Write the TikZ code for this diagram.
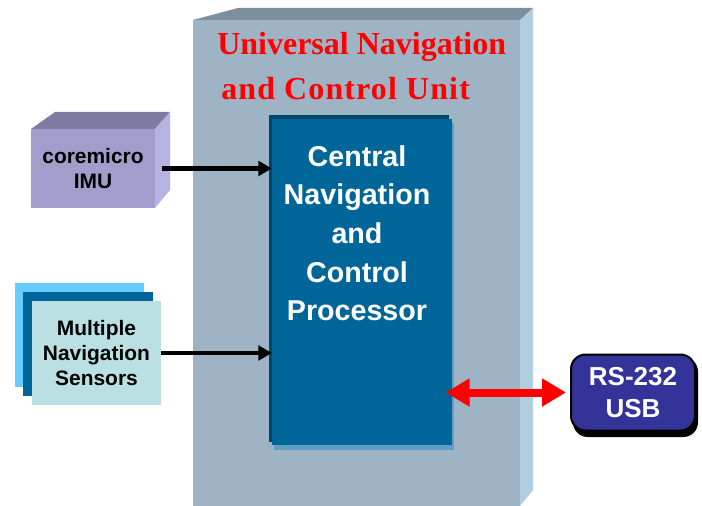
\documentclass[tikz,border=0pt]{standalone}
\usepackage{fontspec}
\setmainfont{Liberation Sans}
\newfontfamily\titlefont{Liberation Serif}
\usetikzlibrary{arrows.meta}

\definecolor{unitfront}{HTML}{9EB4C4}
\definecolor{unittop}{HTML}{7B8F9C}
\definecolor{unitside}{HTML}{B3CDE0}
\definecolor{cncblue}{HTML}{006699}
\definecolor{cncdark}{HTML}{00466B}
\definecolor{cnclight}{HTML}{5E9FC6}
\definecolor{imufront}{HTML}{A29DCB}
\definecolor{imutop}{HTML}{7F7BA0}
\definecolor{imuside}{HTML}{B6B3E2}
\definecolor{senslight}{HTML}{66CCFF}
\definecolor{sensfront}{HTML}{BBE0E3}
\definecolor{portblue}{HTML}{333399}

\tikzset{
  blockbox/.style={rectangle, inner sep=0pt, align=center,
    font=\bfseries\fontsize{15.7}{18.5}\selectfont},
  titletext/.style={inner sep=0pt, text=red, font=\titlefont\bfseries\fontsize{24}{30}\selectfont},
  flow/.style={line width=3.6pt, -{Triangle[length=10pt,width=11pt]}},
  link/.style={line width=6pt, red,
    {Triangle[length=18pt,width=20pt]}-{Triangle[length=18pt,width=20pt]}},
}

\begin{document}
\begin{tikzpicture}[x=0.75pt,y=-0.75pt]
  \useasboundingbox (0,0) rectangle (702,506);
  % navigation unit box
  \fill[unitfront] (193,20) rectangle (520,506);
  \fill[unittop] (193,20) -- (238,8) -- (533,8) -- (520,20) -- cycle;
  \fill[unitside] (520,20) -- (533,8) -- (533,490) -- (520,506) -- cycle;
  \node[titletext, anchor=base west] (title1) at (217,55) {Universal Navigation};
  \node[titletext, anchor=base west] (title2) at (221,100)
    {\addfontfeature{LetterSpace=3.5}and Control Unit};

  % central processor
  \fill[cnclight] (274,123) rectangle (454,450);
  \fill[cncdark] (269,115) rectangle (449,442);
  \node[blockbox, fill=cncblue, minimum width=135pt, minimum height=244.5pt]
    (cnc) at (362,282) {};
  \node[blockbox, text=white, anchor=north, font=\bfseries\fontsize{21.5}{29}\selectfont]
    (cnctext) at (357,145) {Central\\Navigation\\and\\Control\\Processor};

  % imu cube
  \fill[imutop] (31,129) -- (55,112) -- (170,112) -- (155,129) -- cycle;
  \fill[imuside] (155,129) -- (170,112) -- (170,190) -- (155,208) -- cycle;
  \node[blockbox, fill=imufront, minimum width=93pt, minimum height=59.25pt]
    (imu) at (93,168.5) {coremicro\\IMU};

  % sensors stack
  \fill[senslight] (15,283) rectangle (144,387);
  \fill[cncblue] (23,292) rectangle (153,396);
  \node[blockbox, fill=sensfront, minimum width=96.75pt, minimum height=78pt]
    (sens) at (96.5,353) {Multiple\\Navigation\\Sensors};

  % serial port
  \fill[black, rounded corners=11pt] (573,357) rectangle (698,437);
  \node[blockbox, fill=portblue, draw=black, line width=1.5pt, rounded corners=11pt,
    text=white, minimum width=93pt, minimum height=57pt,
    font=\bfseries\fontsize{19.5}{23.5}\selectfont]
    (port) at (633,392.5) {RS-232\\USB};

  \draw[flow] ([xshift=5]imu.east) -- (imu.east -| cnc.west);
  \draw[flow] (sens.east) -- (sens.east -| cnc.west);
  \draw[link] ([xshift=-5]port.west -| cnc.east) -- ([xshift=-3]port.west);
\end{tikzpicture}
\end{document}
